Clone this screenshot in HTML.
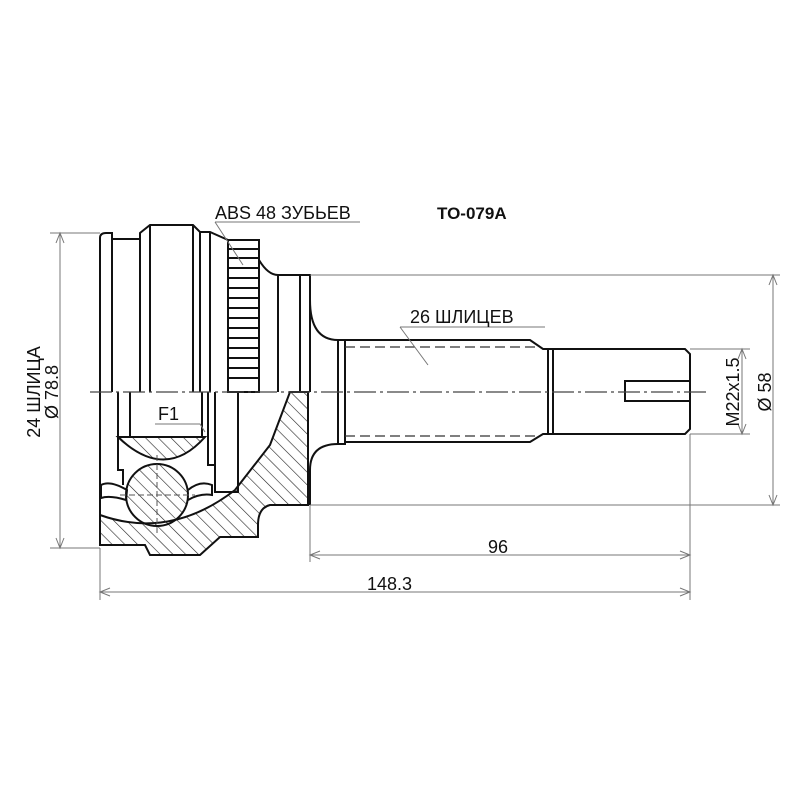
<!DOCTYPE html>
<html><head><meta charset="utf-8"><style>html,body{margin:0;padding:0;background:#fff}svg{display:block}</style></head>
<body>
<svg width="800" height="800" viewBox="0 0 800 800" xmlns="http://www.w3.org/2000/svg" font-family="Liberation Sans, DejaVu Sans, sans-serif">
<defs>
<pattern id="h" patternUnits="userSpaceOnUse" width="9" height="9" patternTransform="rotate(-45)">
<line x1="0" y1="0" x2="0" y2="9" stroke="#222" stroke-width="1.2"/>
</pattern>
</defs>
<rect width="800" height="800" fill="#fff"/>
<g fill="none" stroke="#111" stroke-width="2">
<path d="M100,392 L100,238 Q100,233 106,233 L112,233 L112,239 L140,239 L140,233 L150,225 L193,225 L200,232 L210,232 L228,240 L228,392"/>
<path d="M259,240 L259,260 Q268,275 278,275 L310,275 L310,300 Q310,340 338,340 L345,340"/>
<line x1="112" y1="239" x2="112" y2="392"/>
<line x1="140" y1="239" x2="140" y2="392"/>
<line x1="150" y1="225" x2="150" y2="392"/>
<line x1="193" y1="225" x2="193" y2="392"/>
<line x1="200" y1="232" x2="200" y2="392"/>
<line x1="210" y1="232" x2="210" y2="392"/>
<line x1="278" y1="275" x2="278" y2="392"/>
<line x1="300" y1="275" x2="300" y2="392"/>
<line x1="310" y1="300" x2="310" y2="392"/>
<rect x="228" y="240" width="31" height="152"/>
</g>
<g stroke="#111" stroke-width="2">
<line x1="228" y1="249" x2="259" y2="249"/><line x1="228" y1="258" x2="259" y2="258"/>
<line x1="228" y1="268" x2="259" y2="268"/><line x1="228" y1="278" x2="259" y2="278"/>
<line x1="228" y1="288" x2="259" y2="288"/><line x1="228" y1="298" x2="259" y2="298"/>
<line x1="228" y1="308" x2="259" y2="308"/><line x1="228" y1="318" x2="259" y2="318"/>
<line x1="228" y1="328" x2="259" y2="328"/><line x1="228" y1="338" x2="259" y2="338"/>
<line x1="228" y1="348" x2="259" y2="348"/><line x1="228" y1="358" x2="259" y2="358"/>
<line x1="228" y1="368" x2="259" y2="368"/><line x1="228" y1="378" x2="259" y2="378"/>
</g>
<g fill="none" stroke="#111" stroke-width="2">
<path d="M338,340 L338,444 M338,340 L345,340 L345,444 L338,444"/>
<path d="M345,340 L530,340 L543,349 L553,349 L553,434 L543,434 L530,442 L345,442"/>
<line x1="548" y1="349" x2="548" y2="434"/>
<path d="M553,349 L685,349 L690,354 L690,429 L685,434 L553,434"/>
<path d="M690,381 L625,381 L625,401 L690,401"/>
<path d="M338,444 Q310,444 310,470 L310,505"/>
</g>
<g stroke="#333" stroke-width="1.2" stroke-dasharray="10,5">
<line x1="345" y1="347" x2="535" y2="347"/>
<line x1="345" y1="436" x2="535" y2="436"/>
</g>
<path d="M100,515 Q170,540 235,490 L270,445 L290,392 L308,392 L308,505 L270,505 Q258,508 258,525 L258,537 L220,537 L200,555 L150,555 L145,545 L100,545 Z" fill="url(#h)" stroke="#111" stroke-width="2"/>
<path d="M118,437 L205,437 Q165,482 118,437 Z" fill="url(#h)" stroke="#111" stroke-width="2"/>
<circle cx="157" cy="495" r="31" fill="url(#h)" stroke="#111" stroke-width="2"/>
<g fill="none" stroke="#111" stroke-width="2">
<path d="M100,392 L100,545"/>
<path d="M118,392 L118,470 L123,470 L123,485"/>
<path d="M130,392 L130,437"/>
<path d="M202,392 L202,437 M208,392 L208,437 L208,465 L215,465"/>
<path d="M215,392 L215,492 L238,492 L238,392"/>
<path d="M101,485 Q110,480 127,490 L126,500 Q110,495 101,498 Z"/>
<path d="M188,490 Q200,480 212,485 L212,495 Q200,493 188,500"/>
</g>
<g stroke="#555" stroke-width="1" stroke-dasharray="6,3">
<line x1="120" y1="495" x2="195" y2="495"/><line x1="157" y1="455" x2="157" y2="535"/>
</g>
<line x1="90" y1="392" x2="710" y2="392" stroke="#444" stroke-width="1.2" stroke-dasharray="22,4,3,4"/>
<g stroke="#777" stroke-width="1" fill="none">
<line x1="50" y1="233" x2="100" y2="233"/><line x1="50" y1="548" x2="100" y2="548"/>
<line x1="60" y1="233" x2="60" y2="548"/>
<line x1="310" y1="275" x2="780" y2="275"/><line x1="310" y1="505" x2="780" y2="505"/>
<line x1="773" y1="275" x2="773" y2="505"/>
<line x1="690" y1="349" x2="750" y2="349"/><line x1="690" y1="434" x2="750" y2="434"/>
<line x1="742" y1="349" x2="742" y2="434"/>
<line x1="100" y1="548" x2="100" y2="600"/><line x1="310" y1="505" x2="310" y2="562"/>
<line x1="690" y1="434" x2="690" y2="600"/>
<line x1="310" y1="555" x2="690" y2="555"/><line x1="100" y1="592" x2="690" y2="592"/>
<path d="M56,243 L60,233 L64,243 M56,538 L60,548 L64,538 M769,285 L773,275 L777,285 M769,495 L773,505 L777,495 M738,359 L742,349 L746,359 M738,424 L742,434 L746,424 M320,551 L310,555 L320,559 M680,551 L690,555 L680,559 M110,588 L100,592 L110,596 M680,588 L690,592 L680,596"/>
<path d="M215,222 L360,222 M215,222 L243,265 M400,327 L545,327 M400,327 L428,365 M155,424 L200,424 L205,432"/>
</g>
<g fill="#111" font-size="18">
<text x="215" y="219">ABS 48 ЗУБЬЕВ</text>
<text x="437" y="219" font-weight="bold" font-size="17">TO-079A</text>
<text x="410" y="323">26 ШЛИЦЕВ</text>
<text x="158" y="420">F1</text>
<text x="488" y="553">96</text>
<text x="367" y="590">148.3</text>
<text transform="translate(40,392) rotate(-90)" text-anchor="middle">24 ШЛИЦА</text>
<text transform="translate(58,392) rotate(-90)" text-anchor="middle">Ø 78.8</text>
<text transform="translate(739,392) rotate(-90)" text-anchor="middle">M22x1.5</text>
<text transform="translate(771,392) rotate(-90)" text-anchor="middle">Ø 58</text>
</g>
</svg>
</body></html>
